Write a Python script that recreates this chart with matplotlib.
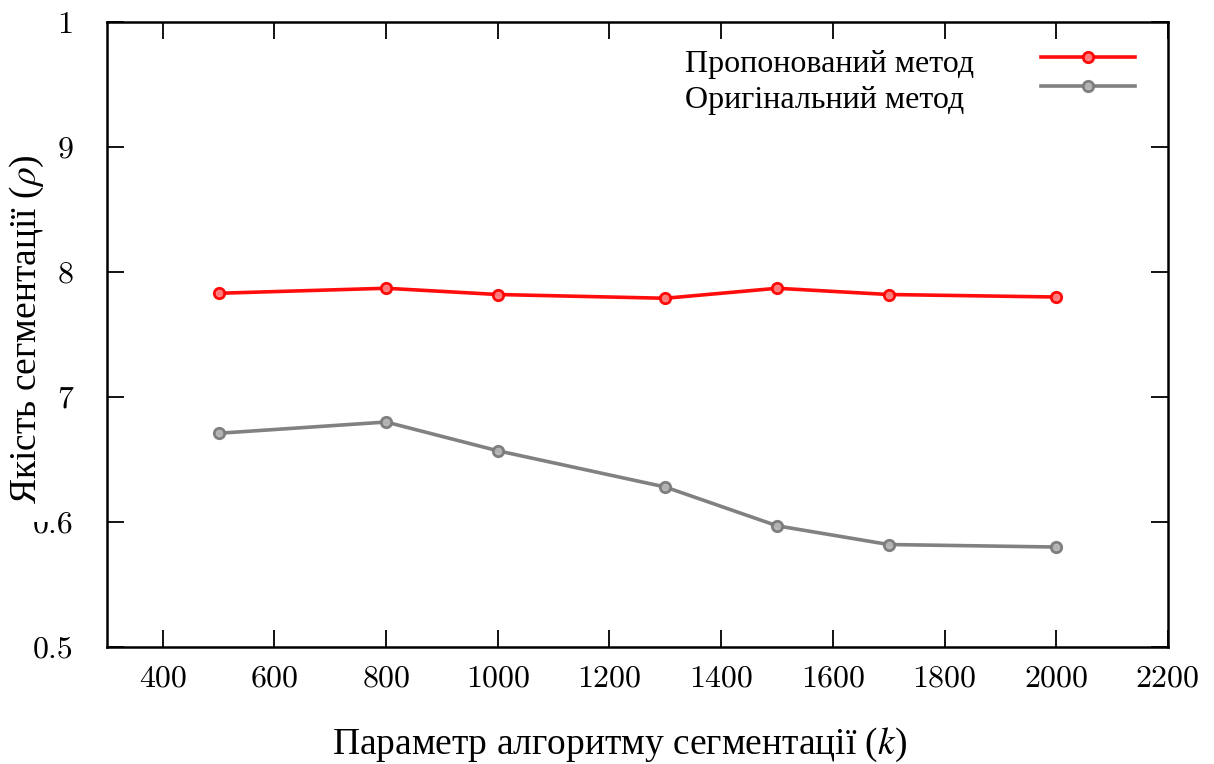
import numpy as np
import matplotlib
matplotlib.use('Agg')
import matplotlib.pyplot as plt
from matplotlib.patches import Rectangle

# дані
k_values = [500, 800, 1000, 1300, 1500, 1700, 2000]
proposed = [0.783, 0.787, 0.782, 0.779, 0.787, 0.782, 0.780]
original = [0.671, 0.680, 0.657, 0.628, 0.597, 0.582, 0.580]
x_ticks = [400, 600, 800, 1000, 1200, 1400, 1600, 1800, 2000, 2200]
y_ticks = [0.5, 0.6, 0.7, 0.8, 0.9, 1.0]
# у вихідному рисунку частина підписів закрита назвою осі
y_tick_labels = ['0.5', '0.6', '7', '8', '9', '1']
label_proposed = 'Пропонований метод'
label_original = 'Оригінальний метод'
x_label = 'Параметр алгоритму сегментації ($k$)'
y_label = 'Якість сегментації ($\\rho$)'

plt.rcParams['mathtext.fontset'] = 'stix'
serif = ['Liberation Serif', 'DejaVu Serif']

fig = plt.figure(figsize=(12.14, 7.64), dpi=100)
ax = fig.add_axes([0.0881, 0.1531, 0.962 - 0.0881, 0.9712 - 0.1531])

l1, = ax.plot(k_values, proposed, color='#ff0000', lw=2.6, marker='o', ms=7.5,
              mfc='#ff8080', mec='#ff0000', mew=2.0, alpha=0.95)
l2, = ax.plot(k_values, original, color='#7a7a7a', lw=2.6, marker='o', ms=7.5,
              mfc='#b5b5b5', mec='#7a7a7a', mew=2.0, alpha=0.95)

ax.set_xlim(300, 2200)
ax.set_ylim(0.5, 1.0)
ax.set_xticks(x_ticks)
ax.set_yticks(y_ticks)
ax.set_yticklabels(y_tick_labels)

for s in ax.spines.values():
    s.set_linewidth(1.8)
ax.tick_params(direction='in', length=12, width=1.3, top=True, right=True,
               labelsize=23, labelfontfamily='cmr10')
ax.tick_params(axis='x', pad=13)
ax.tick_params(axis='y', pad=24)

# зразки ліній легенди (праворуч), підписи вирівняні ліворуч окремо
leg = ax.legend([l1, l2], ['', ''], loc='upper right',
                bbox_to_anchor=(1135 / 1214, 1 - 49 / 764),
                bbox_transform=fig.transFigure, frameon=False,
                prop={'size': 16}, handlelength=4.23, handletextpad=0,
                labelspacing=0.38, borderpad=0, borderaxespad=0)
fig.text(685 / 1214, 1 - 72 / 764, label_proposed, ha='left', va='baseline',
         fontsize=23, family=serif)
fig.text(685 / 1214, 1 - 108 / 764, label_original, ha='left', va='baseline',
         fontsize=23, family=serif)

# білий прямокутник, що частково закриває "0" у підпису 0.6
fig.patches.append(Rectangle((0, 0.3168), 0.0455, 0.533, transform=fig.transFigure,
                             facecolor='white', edgecolor='none', zorder=5))
fig.text(0.022, 0.569, y_label, rotation=90, ha='center', va='center',
         fontsize=27, family=serif, zorder=6)
fig.text(0.51, 0.025, x_label, ha='center', va='center', fontsize=27, family=serif)

fig.savefig('out.png', dpi=100)
